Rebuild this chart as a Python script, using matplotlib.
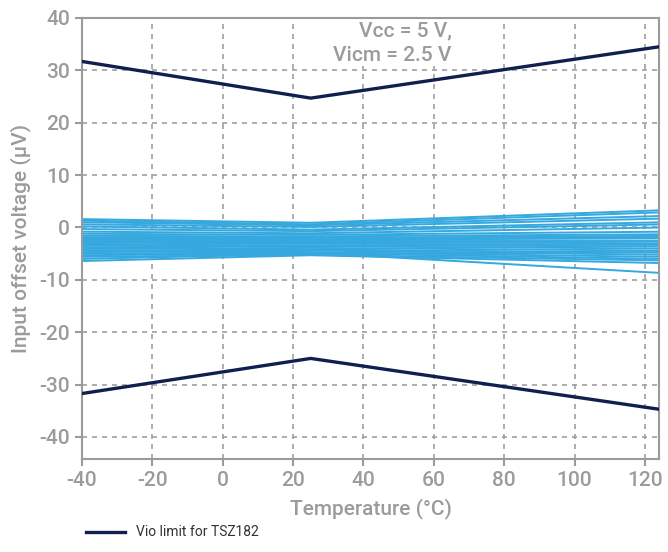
import matplotlib
matplotlib.use("Agg")
import matplotlib.pyplot as plt
from matplotlib.lines import Line2D

plt.rcParams["font.family"] = ["Roboto", "DejaVu Sans"]
plt.rcParams["axes.unicode_minus"] = False

temps = [-40, 25, 125]

# Vio limit for TSZ182 (upper and lower)
limit_hi = [31.7, 24.7, 34.6]
limit_lo = [-31.7, -25.0, -34.8]

# measured offset voltage of individual parts (uV)
vio_m40 = [1.6, 1.3, 1.0, 0.6, 0.2, -0.3, -0.8, -1.2, -1.6, -2.0, -2.3, -2.6, -2.9,
           -3.2, -3.5, -3.8, -4.1, -4.4, -4.7, -5.0, -5.3, -5.6, -6.0, -6.4, -1.9, -3.0]
vio_25 = [0.9, 0.6, 0.4, 0.1, -0.4, -0.7, -1.1, -1.4, -1.7, -2.0, -2.3, -2.6, -2.8,
          -3.1, -3.4, -3.6, -3.9, -4.2, -4.4, -4.7, -4.9, -5.2, -5.0, -5.3, -2.2, -4.8]
vio_125 = [3.3, 2.9, 2.2, 1.7, 1.0, 0.6, 0.0, -0.8, -1.3, -1.6, -2.1, -2.6, -3.0,
           -3.3, -3.6, -4.0, -4.4, -4.8, -5.2, -5.6, -6.0, -6.3, -4.7, -6.8, -1.9, -8.7]

xticks = [-40, -20, 0, 20, 40, 60, 80, 100, 120]
yticks = [-40, -30, -20, -10, 0, 10, 20, 30, 40]

grey = "#9b9b9b"
blue = "#35a8df"
navy = "#101f4d"

fig = plt.figure(figsize=(6.68, 5.52), dpi=100)
ax = fig.add_axes([0.1228, 0.1685, 0.8637, 0.7989])

for a, b, c in zip(vio_m40, vio_25, vio_125):
    ax.plot(temps, [a, b, c], color=blue, lw=1.4, zorder=2)

ax.plot(temps, limit_hi, color=navy, lw=2.4, zorder=3)
ax.plot(temps, limit_lo, color=navy, lw=2.4, zorder=3)

ax.set_xlim(-40, 124)
ax.set_ylim(-44.2, 40)
ax.set_xticks(xticks)
ax.set_yticks(yticks)
ax.grid(True, color="#a0a0a0", ls=(0, (3, 3)), lw=1.2)
ax.set_axisbelow(True)

for s in ax.spines.values():
    s.set_color(grey)
    s.set_linewidth(1.5)
ax.tick_params(colors=grey, labelsize=15, length=5, width=1.5, direction="out")
for lbl in ax.get_xticklabels() + ax.get_yticklabels():
    lbl.set_color(grey)
    lbl.set_fontweight("medium")

ax.set_xlabel("Temperature (°C)", color=grey, fontsize=15, labelpad=6, fontweight="medium")
ax.set_ylabel("Input offset voltage (µV)", color=grey, fontsize=15, labelpad=6, fontweight="medium")

ax.text(65, 35.2, "Vcc = 5 V,\nVicm = 2.5 V", color=grey, fontsize=15,
        fontweight="medium", ha="right", va="center", linespacing=1.35,
        bbox=dict(facecolor="white", edgecolor="none", pad=1))

handle = Line2D([], [], color=navy, lw=2.4)
fig.legend([handle], ["Vio limit for TSZ182"], loc="lower left",
           bbox_to_anchor=(0.11, 0.0), frameon=False, fontsize=10,
           handlelength=2.8, labelcolor="#333333")

fig.savefig("out.png", dpi=100)
